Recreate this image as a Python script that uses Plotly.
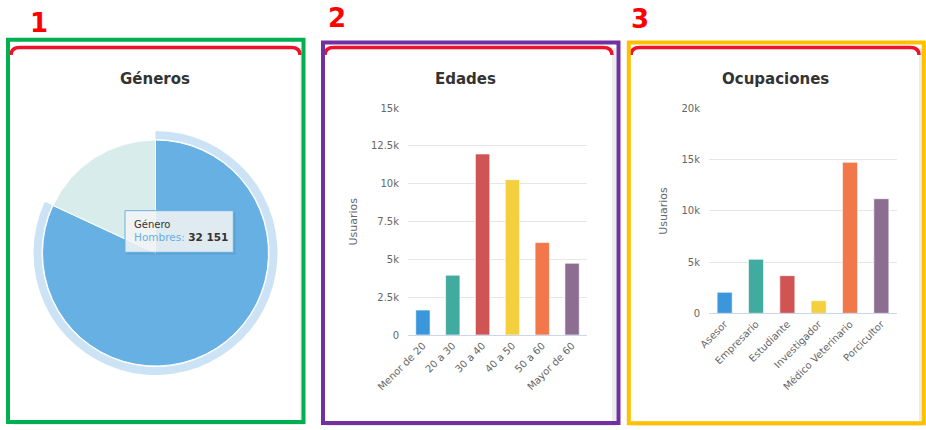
import plotly.graph_objects as go

W, H = 926, 430

# ---------------- data ----------------
gen_labels = ["Hombres", "Mujeres"]
gen_values = [32151, 7100]

edad_cats = ["Menor de 20", "20 a 30", "30 a 40", "40 a 50", "50 a 60", "Mayor de 60"]
edad_vals = [1650, 3950, 11960, 10260, 6110, 4740]

ocup_cats = ["Asesor", "Empresario", "Estudiante", "Investigador", "Médico Veterinario", "Porcicultor"]
ocup_vals = [2050, 5270, 3670, 1230, 14730, 11180]

edad_tickvals = [0, 2500, 5000, 7500, 10000, 12500, 15000]
edad_ticktext = ["0", "2.5k", "5k", "7.5k", "10k", "12.5k", "15k"]
ocup_tickvals = [0, 5000, 10000, 15000, 20000]
ocup_ticktext = ["0", "5k", "10k", "15k", "20k"]

bar_colors = ["#3a97dc", "#42ab9f", "#d15454", "#f4cf3e", "#f2784b", "#8e6e90"]
pie_colors = ["#66b0e3", "#d9ecec"]
halo_color = "#cce3f5"


def X(px):
    return px / W


def Y(py):
    return 1 - py / H


fig = go.Figure()

# ---------------- pie (Géneros) ----------------
cx, cy, r, rh = 155.5, 253, 113, 122
fig.add_trace(go.Pie(
    labels=gen_labels, values=gen_values, sort=False, direction="clockwise", rotation=0,
    domain=dict(x=[X(cx - rh), X(cx + rh)], y=[Y(cy + rh), Y(cy - rh)]),
    hole=(r + 1) / rh, textinfo="none", hoverinfo="skip", showlegend=False,
    marker=dict(colors=[halo_color, "rgba(0,0,0,0)"], line=dict(width=0)),
))
fig.add_trace(go.Pie(
    labels=gen_labels, values=gen_values, sort=False, direction="clockwise", rotation=0,
    domain=dict(x=[X(cx - r), X(cx + r)], y=[Y(cy + r), Y(cy - r)]),
    textinfo="none", hoverinfo="skip", showlegend=False,
    marker=dict(colors=pie_colors, line=dict(color="white", width=1)),
))

# ---------------- bars ----------------
fig.add_trace(go.Bar(x=edad_cats, y=edad_vals, xaxis="x", yaxis="y",
                     marker=dict(color=bar_colors, line=dict(color="rgba(255,255,255,0.6)", width=1)),
                     showlegend=False, hoverinfo="skip"))
fig.add_trace(go.Bar(x=ocup_cats, y=ocup_vals, xaxis="x2", yaxis="y2",
                     marker=dict(color=bar_colors, line=dict(color="rgba(255,255,255,0.6)", width=1)),
                     showlegend=False, hoverinfo="skip"))

tickfont = dict(family="DejaVu Sans", size=10, color="#666666")
xcommon = dict(showline=True, linecolor="#ccd6eb", linewidth=1, ticks="", tickangle=-45,
               tickfont=tickfont, showgrid=False, zeroline=False, fixedrange=True,
               automargin=False)
ycommon = dict(showline=False, gridcolor="#e6e6e6", gridwidth=1, zeroline=False, ticks="",
               tickfont=tickfont, ticklabelstandoff=8, fixedrange=True, automargin=False)

shapes = []
annotations = []

# card shadows, cards
cards = [(11, 46, 300, 420), (325, 46, 612, 421), (631, 46, 919, 421)]
for (x0, y0, x1, y1) in cards:
    shapes.append(dict(type="rect", xref="paper", yref="paper", layer="below",
                       x0=X(x0 + 2), x1=X(x1 + 4), y0=Y(y1 + 5), y1=Y(y0 + 2),
                       fillcolor="#ececec", line=dict(width=0)))
    shapes.append(dict(type="rect", xref="paper", yref="paper", layer="below",
                       x0=X(x0), x1=X(x1), y0=Y(y1), y1=Y(y0),
                       fillcolor="white", line=dict(width=0)))
    # red top border with rounded ends
    path = (f"M {X(x0)},{Y(y0 + 9)} Q {X(x0)},{Y(y0 + 1.5)} {X(x0 + 9)},{Y(y0 + 1.5)} "
            f"L {X(x1 - 9)},{Y(y0 + 1.5)} Q {X(x1)},{Y(y0 + 1.5)} {X(x1)},{Y(y0 + 9)}")
    shapes.append(dict(type="path", xref="paper", yref="paper", layer="above", path=path,
                       line=dict(color="#f0122b", width=3.5)))

# colored outline boxes
boxes = [((8, 39.7, 303.5, 422), "#00b050"),
         ((323, 42.5, 618.5, 423), "#7030a0"),
         ((628.8, 42.5, 923.8, 423.2), "#ffc000")]
for (x0, y0, x1, y1), col in boxes:
    shapes.append(dict(type="rect", xref="paper", yref="paper", layer="above",
                       x0=X(x0), x1=X(x1), y0=Y(y1), y1=Y(y0),
                       line=dict(color=col, width=4), fillcolor="rgba(0,0,0,0)"))

# red numbers
for txt, px, py in [("1", 38.5, 23), ("2", 336.5, 18), ("3", 639.7, 19)]:
    annotations.append(dict(text=f"<b>{txt}</b>", x=X(px), y=Y(py), xref="paper", yref="paper",
                            showarrow=False, xanchor="center", yanchor="middle",
                            font=dict(family="DejaVu Sans", size=26, color="#ff0000")))

# titles
for txt, px in [("Géneros", 155.3), ("Edades", 465), ("Ocupaciones", 775)]:
    annotations.append(dict(text=f"<b>{txt}</b>", x=X(px), y=Y(78.5), xref="paper", yref="paper",
                            showarrow=False, xanchor="center", yanchor="middle",
                            font=dict(family="DejaVu Sans", size=15, color="#333333")))

# y-axis titles
for px, py in [(353, 221.5), (664, 210.8)]:
    annotations.append(dict(text="Usuarios", x=X(px), y=Y(py), xref="paper", yref="paper",
                            showarrow=False, textangle=-90, xanchor="center", yanchor="middle",
                            font=dict(family="DejaVu Sans", size=11, color="#666666")))

# tooltip
shapes.append(dict(type="rect", xref="paper", yref="paper", layer="above",
                   x0=X(127), x1=X(235.5), y0=Y(254.5), y1=Y(212.5),
                   fillcolor="rgba(0,0,0,0.08)", line=dict(width=0)))
shapes.append(dict(type="rect", xref="paper", yref="paper", layer="above",
                   x0=X(125), x1=X(233.3), y0=Y(252.3), y1=Y(210.7),
                   fillcolor="rgba(247,247,247,0.85)", line=dict(color="#66b0e3", width=1)))
annotations.append(dict(text="Género", x=X(131.5), y=Y(224), xref="paper", yref="paper",
                        showarrow=False, xanchor="left", yanchor="middle",
                        font=dict(family="DejaVu Sans", size=10, color="#333333")))
annotations.append(dict(text="<span style='color:#66b0e3'>Hombres:</span> <b>32 151</b>",
                        x=X(131.5), y=Y(237), xref="paper", yref="paper",
                        showarrow=False, xanchor="left", yanchor="middle",
                        font=dict(family="DejaVu Sans", size=10.5, color="#333333")))

fig.update_layout(
    width=W, height=H, margin=dict(l=0, r=0, t=0, b=0, autoexpand=False),
    paper_bgcolor="white", plot_bgcolor="rgba(0,0,0,0)",
    bargap=0.52, showlegend=False,
    xaxis=dict(domain=[X(408), X(587)], anchor="y", **xcommon),
    yaxis=dict(domain=[Y(335), Y(108)], anchor="x", range=[0, 15000],
               tickvals=edad_tickvals, ticktext=edad_ticktext, **ycommon),
    xaxis2=dict(domain=[X(709), X(897)], anchor="y2", **xcommon),
    yaxis2=dict(domain=[Y(313.3), Y(108.3)], anchor="x2", range=[0, 20000],
                tickvals=ocup_tickvals, ticktext=ocup_ticktext, **ycommon),
    shapes=shapes, annotations=annotations,
)

fig.write_html(
    "out.html",
    config={"displayModeBar": False},
    post_script="document.body.style.margin='0';document.body.style.overflow='hidden';",
)
